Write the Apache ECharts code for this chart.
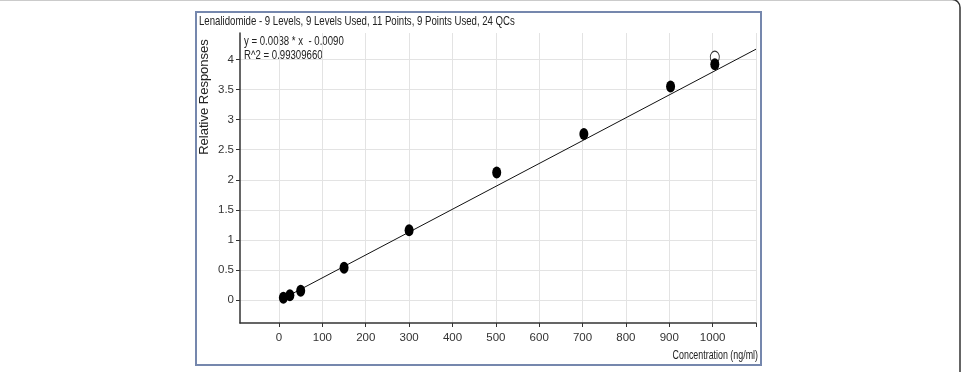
<!DOCTYPE html>
<html>
<head>
<meta charset="utf-8">
<script src="https://cdn.jsdelivr.net/npm/echarts@6/dist/echarts.min.js"></script>
<style>
  html, body { margin: 0; padding: 0; background: #fff; }
  #chart { width: 969px; height: 372px; }
</style>
</head>
<body>
<div id="chart"></div>
<script>
// calibration points
var concentrations = [10, 25, 50, 150, 300, 502, 703, 903, 1005];
var responses = [0.04, 0.08, 0.155, 0.54, 1.16, 2.12, 2.76, 3.55, 3.92];
// excluded point (hollow)
var excludedPoints = [[1005, 4.04]];
// regression line y = 0.0038 * x - 0.0090
var fitX = [10, 1100];
var fitY = [0.029, 4.171];

var xTicks = [0, 100, 200, 300, 400, 500, 600, 700, 800, 900, 1000, 1100];
var xLabels = [0, 100, 200, 300, 400, 500, 600, 700, 800, 900, 1000];
var yTicks = [0, 0.5, 1, 1.5, 2, 2.5, 3, 3.5, 4];

var titleText = 'Lenalidomide - 9 Levels, 9 Levels Used, 11 Points, 9 Points Used, 24 QCs';
var eqText = 'y = 0.0038 * x  - 0.0090';
var r2Text = 'R^2 = 0.99309660';

var sans = '"Liberation Sans", Arial, sans-serif';
var squeeze = 0.74; // the source picture is squashed horizontally

var chart = echarts.init(document.getElementById('chart'), null, { renderer: 'canvas' });

var option = {
  animation: false,
  backgroundColor: '#fff',
  grid: { left: 240, right: 213, top: 33, bottom: 49, containLabel: false },
  xAxis: {
    type: 'value',
    min: -90,
    max: 1100,
    axisLine: { show: true, onZero: false, lineStyle: { color: '#333', width: 1.5 } },
    axisTick: { show: true, length: 4, customValues: xTicks, lineStyle: { color: '#333' } },
    axisLabel: {
      customValues: xLabels, margin: 9, color: '#333', fontSize: 11.5, fontFamily: sans,
      formatter: function (v) { return String(v); }
    },
    splitLine: { show: true, lineStyle: { color: '#e3e3e3', width: 1 } }
  },
  yAxis: {
    type: 'value',
    min: -0.38,
    max: 4.44,
    axisLine: { show: true, onZero: false, lineStyle: { color: '#333', width: 1.5 } },
    axisTick: { show: true, length: 4, customValues: yTicks, lineStyle: { color: '#333' } },
    axisLabel: {
      customValues: yTicks, margin: 6, color: '#333', fontSize: 11.5, fontFamily: sans,
      formatter: function (v) { return String(v); }
    },
    splitLine: { show: true, lineStyle: { color: '#e3e3e3', width: 1 } }
  },
  series: [
    {
      name: 'fit',
      type: 'line',
      data: fitX.map(function (x, i) { return [x, fitY[i]]; }),
      showSymbol: false,
      lineStyle: { color: '#111', width: 1 },
      z: 2
    },
    {
      name: 'excluded',
      type: 'scatter',
      data: excludedPoints,
      symbol: 'circle',
      symbolSize: [9, 12],
      itemStyle: { color: '#fff', borderColor: '#000', borderWidth: 1 },
      z: 3
    },
    {
      name: 'used',
      type: 'scatter',
      data: concentrations.map(function (x, i) { return [x, responses[i]]; }),
      symbol: 'circle',
      symbolSize: [9, 12],
      itemStyle: { color: '#000', opacity: 1 },
      z: 4
    }
  ],
  graphic: [
    {
      type: 'rect',
      shape: { x: -20, y: -0.5, width: 980, height: 400, r: 8 },
      style: { fill: 'none', stroke: '#333', lineWidth: 1.5 },
      silent: true
    },
    {
      type: 'rect',
      shape: { x: 196, y: 12, width: 565, height: 353 },
      style: { fill: 'none', stroke: '#7587ad', lineWidth: 2 },
      silent: true
    },
    {
      type: 'text',
      x: 199, y: 21, scaleX: squeeze,
      style: { text: titleText, fill: '#222', font: '13px ' + sans, verticalAlign: 'middle' }
    },
    {
      type: 'text',
      x: 244, y: 41.5, scaleX: squeeze,
      style: { text: eqText, fill: '#222', font: '13px ' + sans, verticalAlign: 'middle' }
    },
    {
      type: 'text',
      x: 244, y: 55, scaleX: squeeze,
      style: { text: r2Text, fill: '#222', font: '13px ' + sans, verticalAlign: 'middle' }
    },
    {
      type: 'text',
      x: 204, y: 97,
      rotation: Math.PI / 2,
      style: {
        text: 'Relative Responses', fill: '#222',
        font: '13px ' + sans,
        align: 'center', verticalAlign: 'middle'
      }
    },
    {
      type: 'text',
      x: 758, y: 356, scaleX: squeeze,
      style: {
        text: 'Concentration (ng/ml)', fill: '#222',
        font: '12px ' + sans,
        align: 'right', verticalAlign: 'middle'
      }
    }
  ]
};

chart.setOption(option);
window.addEventListener('resize', chart.resize);
</script>
</body>
</html>
